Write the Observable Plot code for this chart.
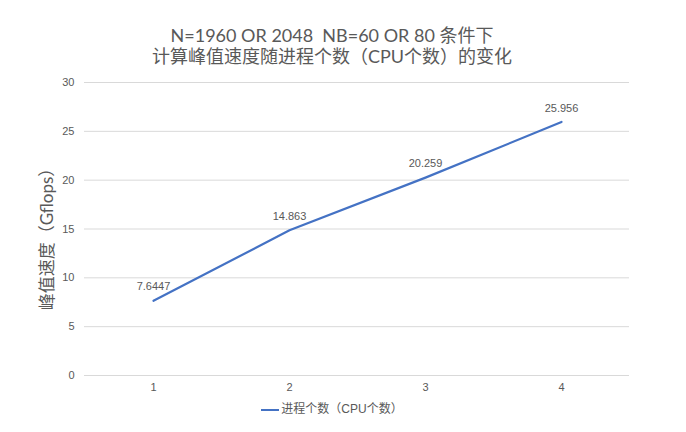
<!DOCTYPE html>
<html><head><meta charset="utf-8">
<script src="https://cdn.jsdelivr.net/npm/d3@7"></script>
<script src="https://cdn.jsdelivr.net/npm/@observablehq/plot@0.6"></script>
<style>
body{margin:0;background:#fff;font-family:Lato,"Noto Sans CJK SC",sans-serif;}
#wrap{position:relative;width:686px;height:432px;}
#title{position:absolute;left:0;width:664px;top:25px;text-align:center;color:#595959;font-size:18px;line-height:21px;}
#legend{position:absolute;left:0;width:664px;top:399px;text-align:center;color:#595959;font-size:12px;font-family:"Liberation Sans","Noto Sans CJK SC",sans-serif;}
#legend svg{vertical-align:middle;margin-right:2px;}
#chart{position:absolute;left:0;top:0;}
</style></head><body>
<div id="wrap">
<div id="chart"></div>
<div id="title">N=1960 OR 2048&nbsp; NB=60 OR 80 条件下<br>计算峰值速度随进程个数（CPU个数）的变化</div>
<div id="legend"><svg width="18" height="10"><line x1="0" x2="18" y1="5" y2="5" stroke="#4472C4" stroke-width="2"/></svg>进程个数（CPU个数）</div>
</div>
<script>
const categories = ["1", "2", "3", "4"];
const values = [7.6447, 14.863, 20.259, 25.956];
const valueLabels = ["7.6447", "14.863", "20.259", "25.956"];
const yTicks = [0, 5, 10, 15, 20, 25, 30];
const seriesName = "进程个数（CPU个数）";
const yLabel = "峰值速度（Gflops）";

const data = categories.map((c, i) => ({x: c, y: values[i], label: valueLabels[i]}));

const chart = Plot.plot({
  width: 686, height: 432,
  marginTop: 82, marginBottom: 57, marginLeft: 84, marginRight: 57,
  style: {fontFamily: '"Liberation Sans", "Noto Sans CJK SC", sans-serif', fontSize: "11px", color: "#595959", background: "white"},
  x: {type: "point", domain: categories, padding: 0.5},
  y: {domain: [0, 30]},
  marks: [
    Plot.ruleY(yTicks, {stroke: "#d9d9d9", strokeWidth: 1}),
    Plot.axisY(yTicks, {tickSize: 0, tickPadding: 10, label: null, fill: "#595959"}),
    Plot.axisX({tickSize: 0, tickPadding: 8, label: null, fill: "#595959"}),
    Plot.line(data, {x: "x", y: "y", stroke: "#4472C4", strokeWidth: 2.2}),
    Plot.text(data, {x: "x", y: "y", text: "label", dy: -14, fill: "#595959", fontSize: 11}),
    Plot.text([yLabel], {frameAnchor: "left", textAnchor: "middle", text: d => d, rotate: -90, dx: -37, dy: 6, fontSize: 17, fill: "#595959", fontFamily: 'Lato, "Noto Sans CJK SC", sans-serif'})
  ]
});
document.getElementById("chart").appendChild(chart);
</script>
</body></html>
